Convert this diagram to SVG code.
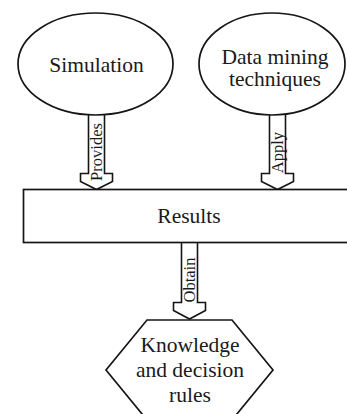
<svg xmlns="http://www.w3.org/2000/svg" width="347" height="414" viewBox="0 0 347 414">
<style>
.shape{fill:#fff;stroke:#151515;stroke-width:1.7}
.arrow{fill:#fff;stroke:#151515;stroke-width:1.6;stroke-linejoin:miter}
.t{font-family:"Liberation Serif","Times New Roman",serif;font-size:21.5px;fill:#1a1a1a;text-anchor:middle}
.lbl{font-family:"Liberation Serif","Times New Roman",serif;font-size:16.5px;fill:#1a1a1a;text-anchor:middle}
</style>
<rect width="347" height="414" fill="#fff"/>
<g id="connectors">
<g id="provides">
<path class="arrow" d="M88.5,110 L88.5,173.5 L80.5,173.5 L80.5,181.5 L96.5,189.5 L112.5,181.5 L112.5,173.5 L104.5,173.5 L104.5,110"/>
<text class="lbl" transform="translate(102,152) rotate(-90)">Provides</text>
</g>
<g id="apply">
<path class="arrow" d="M269.5,110 L269.5,173.5 L261.5,173.5 L261.5,181.5 L277.5,189.5 L293.5,181.5 L293.5,173.5 L285.5,173.5 L285.5,110"/>
<text class="lbl" transform="translate(283,152.5) rotate(-90)">Apply</text>
</g>
<g id="obtain">
<path class="arrow" d="M181.5,243 L181.5,302.5 L173.5,302.5 L173.5,310.5 L189.5,319 L205.5,310.5 L205.5,302.5 L197.5,302.5 L197.5,243"/>
<text class="lbl" transform="translate(194.5,280) rotate(-90)">Obtain</text>
</g>
</g>
<g id="simulation">
<ellipse class="shape" cx="95.5" cy="64" rx="77.5" ry="51"/>
<text class="t" x="96.5" y="72">Simulation</text>
</g>
<g id="data-mining">
<ellipse class="shape" cx="272" cy="64" rx="73" ry="51"/>
<text class="t" x="275" y="64">Data mining</text>
<text class="t" x="275" y="86">techniques</text>
</g>
<g id="results">
<rect class="shape" x="23.5" y="189.5" width="330" height="53"/>
<text class="t" x="189" y="222.5">Results</text>
</g>
<g id="knowledge">
<path class="shape" d="M147,320 L232,320 L273,370 L232,420 L147,420 L106,370 Z"/>
<text class="t" x="190" y="352">Knowledge</text>
<text class="t" x="190" y="377">and decision</text>
<text class="t" x="190" y="402">rules</text>
</g>
</svg>
